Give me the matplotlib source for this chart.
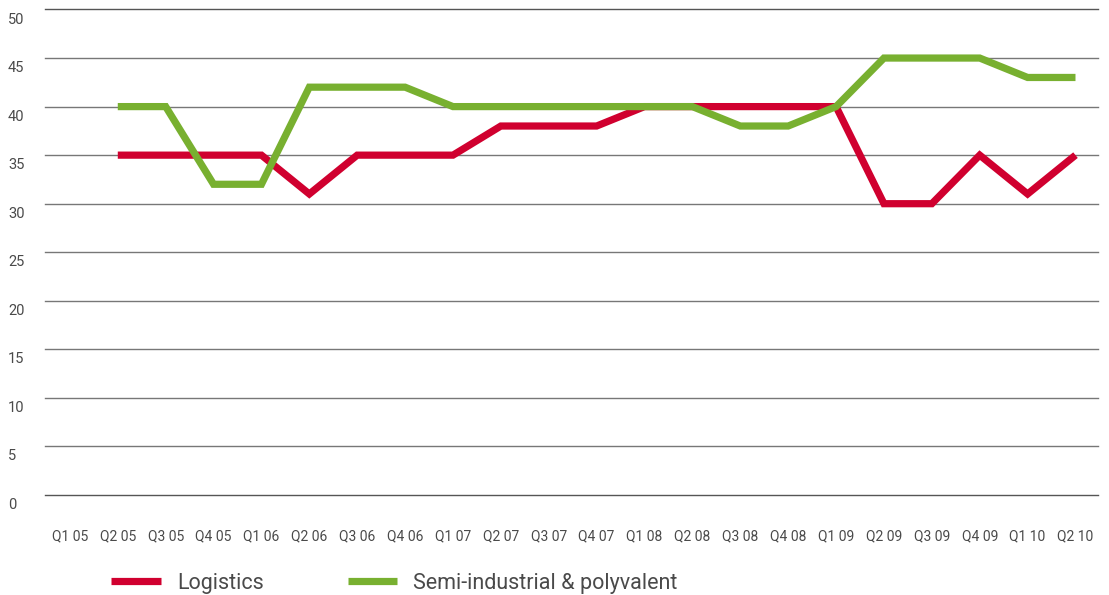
import numpy as np
import matplotlib
matplotlib.use("Agg")
import matplotlib.pyplot as plt
import matplotlib.transforms as mtransforms

# === Data ===
quarters = ["Q1 05", "Q2 05", "Q3 05", "Q4 05", "Q1 06", "Q2 06", "Q3 06", "Q4 06",
            "Q1 07", "Q2 07", "Q3 07", "Q4 07", "Q1 08", "Q2 08", "Q3 08", "Q4 08",
            "Q1 09", "Q2 09", "Q3 09", "Q4 09", "Q1 10", "Q2 10"]
logistics = [np.nan, 35, 35, 35, 35, 31, 35, 35, 35, 38, 38,
             38, 40, 40, 40, 40, 40, 30, 30, 35, 31, 35]
semi_industrial = [np.nan, 40, 40, 32, 32, 42, 42, 42, 40, 40, 40,
                   40, 40, 40, 38, 38, 40, 45, 45, 45, 43, 43]
yticks = [0, 5, 10, 15, 20, 25, 30, 35, 40, 45, 50]

red = "#d0002f"
green = "#78b030"
text_col = "#4a4a4a"

plt.rcParams['font.family'] = ['Roboto', 'DejaVu Sans']

fig = plt.figure(figsize=(11.09, 5.95), dpi=100)
ax = fig.add_axes([45 / 1109, 1 - 495 / 595, (1098 - 45) / 1109, (495 - 9.5) / 595])

x = np.arange(len(quarters))
ax.plot(x, logistics, color=red, lw=5.2, solid_joinstyle="miter", solid_capstyle="butt",
        label="Logistics", zorder=3)
ax.plot(x, semi_industrial, color=green, lw=5.2, solid_joinstyle="miter", solid_capstyle="butt",
        label="Semi-industrial & polyvalent", zorder=3)

ax.set_xlim(-0.52, 21.47)
ax.set_ylim(0, 50)

# gridlines
for v in yticks:
    ax.axhline(v, color="#555555" if v in (0, 50) else "#777777", lw=1, zorder=1, clip_on=False)

for s in ax.spines.values():
    s.set_visible(False)

ax.set_yticks([])
ax.set_xticks(x)
ax.set_xticklabels(quarters, fontsize=10, color=text_col)
ax.tick_params(axis="x", length=0, pad=25)

# y labels sit just below their gridline
trans = mtransforms.blended_transform_factory(fig.transFigure, ax.transData)
trans = trans + mtransforms.ScaledTranslation(0, -3 / 100, fig.dpi_scale_trans)
for v in yticks:
    ax.text(8 / 1109, v, str(v), transform=trans, ha="left", va="top",
            fontsize=10.5, color=text_col)

fig.legend(loc="lower left", bbox_to_anchor=(92 / 1109, -18 / 595), ncol=2, frameon=False,
           fontsize=15.5, handlelength=2.3, handletextpad=0.75, columnspacing=3.9,
           labelcolor=text_col)

fig.savefig("out.png", dpi=100)
